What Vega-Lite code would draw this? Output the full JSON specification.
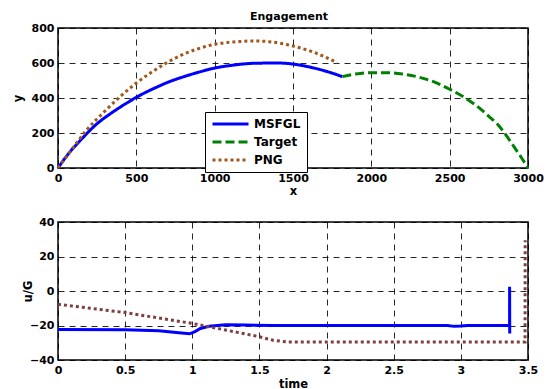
{
  "$schema": "https://vega.github.io/schema/vega-lite/v6.json",
  "padding": {"left": 11, "top": 10, "right": 2, "bottom": 0},
  "background": "white",
  "datasets": {
    "traj": [
      {"series": "MSFGL", "x": 0, "y": 0}, {"series": "MSFGL", "x": 60, "y": 74}, {"series": "MSFGL", "x": 145, "y": 160},
      {"series": "MSFGL", "x": 240, "y": 246}, {"series": "MSFGL", "x": 347, "y": 318}, {"series": "MSFGL", "x": 453, "y": 379},
      {"series": "MSFGL", "x": 498, "y": 403}, {"series": "MSFGL", "x": 613, "y": 455}, {"series": "MSFGL", "x": 740, "y": 503},
      {"series": "MSFGL", "x": 804, "y": 522}, {"series": "MSFGL", "x": 900, "y": 548}, {"series": "MSFGL", "x": 1000, "y": 571},
      {"series": "MSFGL", "x": 1120, "y": 588}, {"series": "MSFGL", "x": 1240, "y": 598}, {"series": "MSFGL", "x": 1400, "y": 600},
      {"series": "MSFGL", "x": 1500, "y": 594}, {"series": "MSFGL", "x": 1590, "y": 580}, {"series": "MSFGL", "x": 1666, "y": 564},
      {"series": "MSFGL", "x": 1740, "y": 545}, {"series": "MSFGL", "x": 1815, "y": 522},
      {"series": "Target", "x": 1815, "y": 522}, {"series": "Target", "x": 1900, "y": 537}, {"series": "Target", "x": 2000, "y": 545},
      {"series": "Target", "x": 2100, "y": 545}, {"series": "Target", "x": 2200, "y": 537}, {"series": "Target", "x": 2300, "y": 520},
      {"series": "Target", "x": 2400, "y": 492}, {"series": "Target", "x": 2500, "y": 450}, {"series": "Target", "x": 2600, "y": 400},
      {"series": "Target", "x": 2700, "y": 335}, {"series": "Target", "x": 2750, "y": 295}, {"series": "Target", "x": 2800, "y": 255},
      {"series": "Target", "x": 2850, "y": 200}, {"series": "Target", "x": 2900, "y": 135}, {"series": "Target", "x": 2950, "y": 70},
      {"series": "Target", "x": 3000, "y": 0},
      {"series": "PNG", "x": 0, "y": 0}, {"series": "PNG", "x": 60, "y": 72}, {"series": "PNG", "x": 120, "y": 145},
      {"series": "PNG", "x": 177, "y": 211}, {"series": "PNG", "x": 294, "y": 320}, {"series": "PNG", "x": 400, "y": 411},
      {"series": "PNG", "x": 498, "y": 484}, {"series": "PNG", "x": 602, "y": 550}, {"series": "PNG", "x": 687, "y": 598},
      {"series": "PNG", "x": 814, "y": 655}, {"series": "PNG", "x": 900, "y": 683}, {"series": "PNG", "x": 1000, "y": 707},
      {"series": "PNG", "x": 1120, "y": 720}, {"series": "PNG", "x": 1262, "y": 726}, {"series": "PNG", "x": 1347, "y": 722},
      {"series": "PNG", "x": 1500, "y": 697}, {"series": "PNG", "x": 1621, "y": 665}, {"series": "PNG", "x": 1700, "y": 636},
      {"series": "PNG", "x": 1781, "y": 602}
    ],
    "ctrl": [
      {"series": "MSFGL", "k": 1, "t": 0, "u": -22.3}, {"series": "MSFGL", "k": 2, "t": 0.5, "u": -22.5},
      {"series": "MSFGL", "k": 3, "t": 0.75, "u": -23}, {"series": "MSFGL", "k": 4, "t": 0.9, "u": -24.2},
      {"series": "MSFGL", "k": 5, "t": 0.98, "u": -24.8}, {"series": "MSFGL", "k": 6, "t": 1.02, "u": -23.5},
      {"series": "MSFGL", "k": 7, "t": 1.06, "u": -21.7}, {"series": "MSFGL", "k": 8, "t": 1.125, "u": -20.4},
      {"series": "MSFGL", "k": 9, "t": 1.25, "u": -19.6}, {"series": "MSFGL", "k": 10, "t": 1.4, "u": -19.7},
      {"series": "MSFGL", "k": 11, "t": 1.6, "u": -20}, {"series": "MSFGL", "k": 12, "t": 2.0, "u": -20},
      {"series": "MSFGL", "k": 13, "t": 2.9, "u": -20}, {"series": "MSFGL", "k": 14, "t": 2.95, "u": -20.5},
      {"series": "MSFGL", "k": 15, "t": 3.0, "u": -20.3}, {"series": "MSFGL", "k": 16, "t": 3.05, "u": -20},
      {"series": "MSFGL", "k": 17, "t": 3.355, "u": -20}, {"series": "MSFGL", "k": 18, "t": 3.363, "u": -20.3},
      {"series": "MSFGL", "k": 19, "t": 3.363, "u": 2.4}, {"series": "MSFGL", "k": 20, "t": 3.364, "u": -24.6},
      {"series": "PNG", "k": 1, "t": 0, "u": -7.7}, {"series": "PNG", "k": 2, "t": 0.5, "u": -12.5},
      {"series": "PNG", "k": 3, "t": 1.0, "u": -18.8}, {"series": "PNG", "k": 4, "t": 1.5, "u": -26.5},
      {"series": "PNG", "k": 5, "t": 1.6, "u": -28.5}, {"series": "PNG", "k": 6, "t": 1.7, "u": -29.5},
      {"series": "PNG", "k": 7, "t": 3.478, "u": -29.5}, {"series": "PNG", "k": 8, "t": 3.479, "u": 29.4}
    ]
  },
  "config": {
    "view": {"stroke": "black", "strokeWidth": 1.5},
    "axis": {
      "labelFont": "DejaVu Sans", "labelFontWeight": "bold", "labelFontSize": 11, "labelColor": "black",
      "titleFont": "DejaVu Sans", "titleFontWeight": "bold", "titleFontSize": 11.5, "titleColor": "black",
      "grid": true, "gridColor": "#000", "gridDash": [6, 5], "gridOpacity": 0.85, "gridWidth": 1,
      "domain": false, "ticks": false, "labelPadding": 4, "labelOverlap": false, "labelFlush": false
    },
    "legend": {
      "orient": "none", "legendX": 147, "legendY": 84, "title": null, "fillColor": "white", "strokeColor": "black",
      "padding": 6, "symbolType": "stroke", "symbolSize": 1296, "symbolStrokeWidth": 3, "clipHeight": 12,
      "labelFont": "DejaVu Sans", "labelFontWeight": "bold", "labelFontSize": 12, "labelColor": "black",
      "labelOffset": 4, "rowPadding": 6
    }
  },
  "vconcat": [
    {
      "width": 470, "height": 140,
      "title": {"text": "Engagement", "font": "DejaVu Sans", "fontSize": 11, "fontWeight": "bold", "color": "black", "anchor": "middle", "offset": 0, "dx": -4},
      "data": {"name": "traj"},
      "mark": {"type": "line", "strokeWidth": 3, "strokeCap": "butt", "interpolate": "monotone"},
      "encoding": {
        "x": {"field": "x", "type": "quantitative", "title": "x", "scale": {"domain": [0, 3000], "nice": false},
              "axis": {"values": [0, 500, 1000, 1500, 2000, 2500, 3000], "format": "d", "titlePadding": 2, "labelFlush": false}},
        "y": {"field": "y", "type": "quantitative", "title": "y", "scale": {"domain": [0, 800], "nice": false},
              "axis": {"values": [0, 200, 400, 600, 800], "titleX": -37, "titleBaseline": "alphabetic", "labelFlush": false}},
        "color": {"field": "series", "type": "nominal",
                  "scale": {"domain": ["MSFGL", "Target", "PNG"], "range": ["#0000ff", "#008000", "#a0581e"]}},
        "strokeDash": {"field": "series", "type": "nominal",
                       "scale": {"domain": ["MSFGL", "Target", "PNG"], "range": [[1, 0], [9, 4], [3, 3]]}}
      }
    },
    {
      "width": 470, "height": 138,
      "data": {"name": "ctrl"},
      "encoding": {
        "x": {"field": "t", "type": "quantitative", "title": "time", "scale": {"domain": [0, 3.5], "nice": false},
              "axis": {"values": [0, 0.5, 1, 1.5, 2, 2.5, 3, 3.5], "format": "~g", "titlePadding": 3, "labelFlush": false, "labelOverlap": false}},
        "y": {"field": "u", "type": "quantitative", "title": "u/G", "scale": {"domain": [-40, 40], "nice": false},
              "axis": {"values": [-40, -20, 0, 20, 40], "titleX": -27, "titleBaseline": "alphabetic", "labelFlush": false, "labelOverlap": false}},
        "order": {"field": "k", "type": "quantitative"}
      },
      "layer": [
        {
          "transform": [{"filter": "datum.series === 'MSFGL'"}],
          "mark": {"type": "line", "strokeWidth": 3, "color": "#0000ff"}
        },
        {
          "transform": [{"filter": "datum.series === 'PNG'"}],
          "mark": {"type": "line", "strokeWidth": 3, "color": "#7f3f3f", "strokeDash": [3, 3], "strokeCap": "butt"}
        }
      ]
    }
  ],
  "spacing": 54,
  "bounds": "flush"
}
